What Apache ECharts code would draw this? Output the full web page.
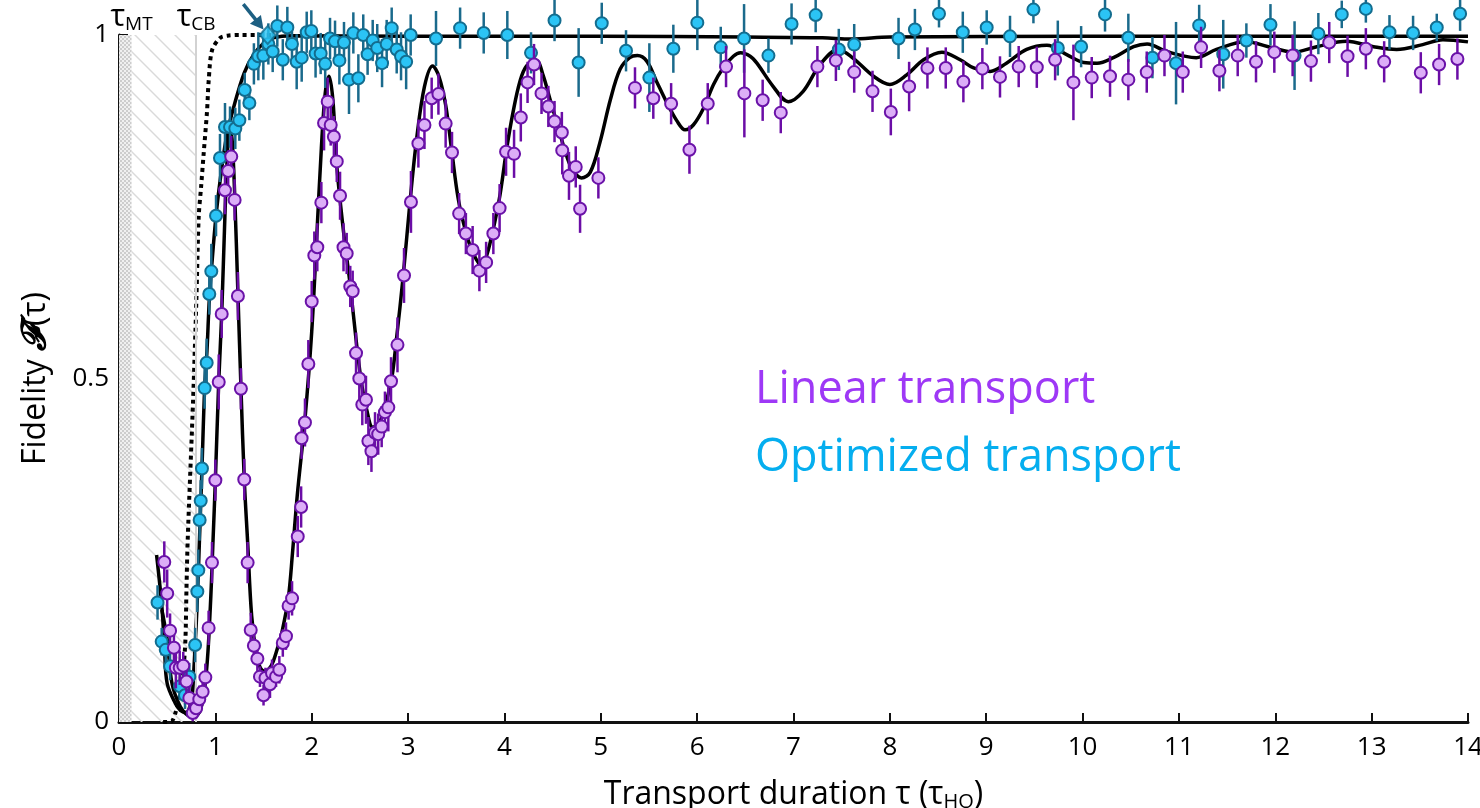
<!DOCTYPE html>
<html>
<head>
<meta charset="utf-8">
<script src="https://cdn.jsdelivr.net/npm/echarts@6/dist/echarts.min.js"></script>
<style>
  html, body { margin: 0; padding: 0; background: #fff; }
  #chart { width: 1480px; height: 808px; }
</style>
</head>
<body>
<div id="chart"></div>
<script>
// ---- Linear transport: measured fidelity and 1-sigma error ----
const linTau = [0.47,0.50,0.53,0.57,0.59,0.63,0.667,0.70,0.73,0.765,0.80,0.833,0.868,0.896,0.93,0.965,1.0,1.035,1.066,1.10,1.133,1.165,1.20,1.234,1.265,1.30,1.335,1.367,1.40,1.436,1.463,1.50,1.52,1.567,1.588,1.63,1.664,1.70,1.733,1.76,1.796,1.855,1.89,1.895,1.93,1.965,2.0,2.027,2.058,2.10,2.128,2.166,2.197,2.23,2.26,2.294,2.33,2.363,2.40,2.425,2.46,2.494,2.525,2.563,2.588,2.62,2.657,2.69,2.726,2.76,2.795,2.823,2.89,2.958,3.03,3.107,3.17,3.245,3.315,3.39,3.456,3.53,3.60,3.67,3.74,3.81,3.885,3.95,4.017,4.10,4.17,4.24,4.307,4.385,4.456,4.52,4.596,4.60,4.67,4.74,4.785,4.975,5.355,5.545,5.73,5.92,6.11,6.30,6.49,6.68,6.868,7.248,7.44,7.63,7.82,8.01,8.20,8.39,8.58,8.763,8.96,9.143,9.337,9.525,9.715,9.905,10.095,10.285,10.475,10.666,10.85,11.04,11.23,11.42,11.61,11.80,11.99,12.18,12.37,12.56,12.75,12.94,13.13,13.51,13.70,13.89];
const linFid = [0.233,0.187,0.133,0.108,0.079,0.079,0.082,0.059,0.035,0.013,0.020,0.033,0.044,0.065,0.137,0.232,0.352,0.495,0.594,0.774,0.802,0.823,0.760,0.620,0.485,0.353,0.232,0.134,0.111,0.092,0.066,0.039,0.064,0.055,0.071,0.066,0.076,0.115,0.125,0.169,0.180,0.270,0.313,0.413,0.436,0.521,0.612,0.679,0.691,0.756,0.872,0.903,0.869,0.852,0.816,0.766,0.691,0.682,0.634,0.627,0.537,0.500,0.462,0.469,0.409,0.394,0.421,0.419,0.430,0.451,0.458,0.496,0.549,0.650,0.757,0.842,0.869,0.908,0.914,0.871,0.829,0.740,0.711,0.687,0.657,0.669,0.711,0.748,0.830,0.827,0.880,0.931,0.957,0.915,0.896,0.874,0.858,0.832,0.795,0.808,0.747,0.792,0.923,0.908,0.900,0.833,0.900,0.954,0.915,0.905,0.887,0.954,0.963,0.946,0.918,0.888,0.925,0.952,0.952,0.932,0.951,0.939,0.954,0.953,0.964,0.931,0.938,0.940,0.935,0.946,0.970,0.946,0.982,0.948,0.970,0.961,0.975,0.970,0.962,0.989,0.969,0.980,0.961,0.945,0.957,0.965];
const linErr = [0.03,0.035,0.025,0.03,0.03,0.025,0.02,0.02,0.02,0.012,0.015,0.02,0.02,0.02,0.025,0.03,0.03,0.04,0.035,0.035,0.03,0.03,0.03,0.035,0.03,0.03,0.03,0.025,0.02,0.02,0.015,0.015,0.015,0.02,0.02,0.015,0.02,0.02,0.02,0.02,0.025,0.03,0.03,0.03,0.035,0.035,0.03,0.035,0.035,0.03,0.04,0.035,0.03,0.03,0.03,0.035,0.035,0.03,0.03,0.03,0.03,0.035,0.03,0.035,0.035,0.03,0.03,0.03,0.03,0.03,0.035,0.035,0.04,0.04,0.045,0.035,0.035,0.03,0.03,0.035,0.03,0.03,0.03,0.035,0.03,0.03,0.03,0.035,0.035,0.035,0.035,0.03,0.03,0.03,0.03,0.03,0.03,0.035,0.035,0.03,0.035,0.03,0.03,0.03,0.03,0.035,0.03,0.03,0.064,0.03,0.03,0.03,0.03,0.03,0.03,0.034,0.036,0.03,0.03,0.03,0.03,0.03,0.03,0.03,0.03,0.055,0.03,0.03,0.03,0.03,0.03,0.03,0.03,0.03,0.03,0.03,0.03,0.03,0.03,0.03,0.03,0.03,0.03,0.03,0.03,0.03];

// ---- Optimized transport: measured fidelity and 1-sigma error ----
const optTau = [0.40,0.443,0.485,0.53,0.633,0.685,0.73,0.79,0.813,0.823,0.837,0.848,0.861,0.889,0.91,0.937,0.958,1.007,1.048,1.10,1.152,1.207,1.249,1.305,1.353,1.40,1.446,1.498,1.55,1.595,1.643,1.70,1.747,1.795,1.844,1.896,1.948,1.996,2.04,2.093,2.14,2.19,2.242,2.287,2.335,2.387,2.432,2.484,2.535,2.58,2.633,2.68,2.73,2.778,2.83,2.882,2.927,2.98,3.027,3.29,3.54,3.785,4.03,4.276,4.52,4.77,5.01,5.262,5.504,5.753,6.002,6.245,6.487,6.74,6.98,7.23,7.47,7.63,8.09,8.26,8.51,8.757,9.005,9.247,9.49,9.743,9.985,10.233,10.475,10.725,10.97,11.21,11.46,11.70,11.95,12.20,12.447,12.69,12.94,13.185,13.43,13.676,13.918];
const optFid = [0.174,0.117,0.105,0.081,0.052,0.039,0.066,0.112,0.190,0.221,0.294,0.322,0.369,0.486,0.523,0.623,0.656,0.737,0.821,0.866,0.866,0.864,0.876,0.920,0.901,0.958,0.969,0.970,0.987,0.976,1.013,0.964,1.011,0.987,0.961,0.967,1.004,1.006,0.973,0.973,0.958,0.995,0.991,0.963,0.989,0.935,1.003,0.937,1.000,0.972,0.992,0.981,0.959,0.987,1.010,0.979,0.969,0.961,1.000,0.995,1.010,1.003,1.000,0.974,1.021,0.960,1.017,0.977,0.938,0.980,1.018,0.982,0.995,0.970,1.016,1.029,0.979,0.986,0.995,1.008,1.031,1.004,1.011,0.998,1.037,0.981,0.983,1.030,0.996,0.967,0.959,1.014,0.972,0.992,1.015,0.970,1.002,1.030,1.038,1.004,1.003,1.011,1.031];
const optErr = [0.025,0.02,0.02,0.02,0.02,0.02,0.02,0.025,0.03,0.03,0.03,0.03,0.03,0.03,0.035,0.03,0.04,0.03,0.035,0.035,0.03,0.03,0.03,0.025,0.025,0.03,0.035,0.035,0.03,0.03,0.03,0.03,0.03,0.03,0.04,0.035,0.03,0.03,0.035,0.03,0.035,0.03,0.03,0.035,0.03,0.05,0.03,0.035,0.03,0.03,0.03,0.035,0.035,0.035,0.03,0.035,0.035,0.04,0.03,0.04,0.03,0.03,0.035,0.03,0.03,0.05,0.03,0.03,0.05,0.035,0.04,0.03,0.05,0.025,0.03,0.025,0.03,0.03,0.03,0.03,0.02,0.03,0.025,0.03,0.02,0.04,0.03,0.025,0.035,0.03,0.06,0.03,0.05,0.025,0.03,0.05,0.03,0.02,0.02,0.025,0.025,0.02,0.025];

// ---- Fitted model curves ----
const fitLinTau = [0.445,0.50,0.55,0.637,0.71,0.775,0.845,0.906,0.948,0.976,1.0,1.035,1.066,1.10,1.13,1.152,1.175,1.20,1.235,1.266,1.30,1.335,1.377,1.43,1.47,1.515,1.56,1.60,1.65,1.69,1.757,1.80,1.85,1.93,2.0,2.05,2.10,2.14,2.18,2.22,2.26,2.33,2.40,2.467,2.52,2.57,2.633,2.70,2.76,2.83,2.88,2.95,3.02,3.09,3.17,3.255,3.32,3.39,3.45,3.52,3.60,3.67,3.765,3.816,3.885,3.954,4.024,4.09,4.16,4.23,4.335,4.40,4.47,4.54,4.61,4.68,4.75,4.80,4.89,4.99,5.10,5.20,5.30,5.38,5.477,5.58,5.68,5.79,5.875,5.96,6.065,6.17,6.27,6.376,6.45,6.55,6.62,6.79,6.946,7.10,7.276,7.466,7.62,7.83,8.0,8.175,8.35,8.54,8.73,8.87,9.04,9.21,9.42,9.63,9.84,10.01,10.15,10.32,10.53,10.67,10.87,11.18,11.39,11.69,11.98,12.19,12.43,12.74,13.02,13.26,13.53,13.74,14.0];
const fitLinFid = [0.163,0.12,0.056,0.022,0.010,0.008,0.017,0.071,0.168,0.265,0.352,0.495,0.594,0.74,0.84,0.866,0.845,0.77,0.62,0.485,0.353,0.262,0.154,0.095,0.078,0.074,0.078,0.088,0.11,0.13,0.18,0.245,0.33,0.441,0.568,0.70,0.835,0.915,0.94,0.905,0.81,0.714,0.635,0.548,0.49,0.455,0.429,0.435,0.46,0.50,0.558,0.65,0.757,0.85,0.925,0.955,0.94,0.898,0.835,0.762,0.713,0.684,0.664,0.679,0.718,0.767,0.835,0.888,0.932,0.955,0.962,0.942,0.908,0.874,0.84,0.811,0.796,0.792,0.80,0.843,0.906,0.95,0.967,0.97,0.962,0.932,0.903,0.875,0.862,0.869,0.893,0.928,0.952,0.969,0.974,0.969,0.959,0.925,0.903,0.918,0.957,0.979,0.966,0.94,0.928,0.942,0.964,0.975,0.964,0.952,0.947,0.959,0.979,0.985,0.971,0.96,0.959,0.967,0.983,0.987,0.976,0.967,0.979,0.99,0.981,0.975,0.983,0.991,0.983,0.979,0.986,0.993,0.99];
const fitOptTau = [0.39,0.445,0.473,0.50,0.585,0.637,0.69,0.723,0.758,0.775,0.79,0.81,0.835,0.861,0.889,0.913,0.937,0.958,1.007,1.06,1.12,1.20,1.30,1.40,1.50,1.60,1.80,3.0,5.0,6.5,7.3,7.6,8.0,10.0,14.0];
const fitOptFid = [0.243,0.168,0.105,0.056,0.027,0.017,0.014,0.017,0.037,0.071,0.112,0.168,0.265,0.369,0.486,0.54,0.615,0.656,0.737,0.80,0.855,0.90,0.945,0.972,0.988,0.996,0.999,0.998,0.998,0.997,0.996,0.994,0.997,0.998,0.998];
// Dotted reference curve
const boundTau = [0.458,0.544,0.585,0.637,0.665,0.689,0.70,0.713,0.769,0.803,0.827,0.852,0.879,0.914,0.931,0.966,1.052,1.124,1.26,1.6];
const boundFid = [0.0,0.001,0.013,0.042,0.071,0.119,0.192,0.265,0.469,0.614,0.735,0.779,0.828,0.89,0.934,0.978,0.996,0.999,1.0,1.0];

// ---- Annotations ----
const tauMT = 0.13;
const tauCB = 0.80;
const markerTau = [1.543];
const markerFid = [1.0];
const arrowPath = [[1.29, 1.045, 1.50, 1.008]];

const FONT = '"Open Sans", "DejaVu Sans", sans-serif';
const zip = (a, b) => a.map((v, i) => [v, b[i]]);

// Fill patterns for the forbidden-duration band
function hatchTile() {
  const c = document.createElement('canvas');
  c.width = 20; c.height = 20;
  const g = c.getContext('2d');
  g.strokeStyle = '#dadada';
  g.lineWidth = 1.4;
  for (let k = -1; k <= 1; k++) {
    g.beginPath();
    g.moveTo(k * 20 - 2, -2);
    g.lineTo(k * 20 + 22, 22);
    g.stroke();
  }
  return c;
}
function checkerTile() {
  const c = document.createElement('canvas');
  c.width = 4; c.height = 4;
  const g = c.getContext('2d');
  g.fillStyle = '#f0f0f0'; g.fillRect(0, 0, 4, 4);
  g.fillStyle = '#cdcdcd'; g.fillRect(0, 0, 2, 2); g.fillRect(2, 2, 2, 2);
  return c;
}
const bandFills = [
  { image: checkerTile(), repeat: 'repeat' },
  { image: hatchTile(), repeat: 'repeat' }
];

function errorBars(name, tau, fid, err, color, z) {
  return {
    type: 'custom', name, z, clip: false, silent: true, animation: false,
    data: tau.map((t, i) => [t, fid[i] - err[i], fid[i] + err[i]]),
    encode: { x: 0, y: [1, 2] },
    renderItem(params, api) {
      const lo = api.coord([api.value(0), api.value(1)]);
      const hi = api.coord([api.value(0), api.value(2)]);
      return {
        type: 'line',
        shape: { x1: lo[0], y1: lo[1], x2: hi[0], y2: hi[1] },
        style: { stroke: color, lineWidth: 2.5 }
      };
    }
  };
}

function markers(name, tau, fid, fill, border, z) {
  return {
    type: 'scatter', name, z, clip: false, silent: true, animation: false,
    data: zip(tau, fid),
    symbol: 'circle', symbolSize: 12,
    itemStyle: { color: fill, borderColor: border, borderWidth: 2, opacity: 1 }
  };
}

const subRich = {
  a: { fontSize: 32, fontFamily: FONT, color: '#000' },
  s: { fontSize: 20, fontFamily: FONT, color: '#000', padding: [14, 0, 0, 0] },
  f: { fontSize: 34, fontFamily: '"DejaVu Serif", serif', fontWeight: 'bold', fontStyle: 'italic', color: '#000' }
};

const chart = echarts.init(document.getElementById('chart'), null, { renderer: 'canvas' });
chart.setOption({
  animation: false,
  backgroundColor: '#fff',
  grid: { left: 119, right: 12, top: 35, bottom: 86, outerBoundsMode: 'none', containLabel: false },
  xAxis: {
    type: 'value', min: 0, max: 14, interval: 1,
    axisLine: { show: true, onZero: false, lineStyle: { color: '#111', width: 3 } },
    axisTick: { show: true, inside: true, length: 9, lineStyle: { color: '#111', width: 2 } },
    axisLabel: { color: '#000', fontSize: 26, fontFamily: FONT, margin: 13 },
    splitLine: { show: false },
    name: '{a|Transport duration τ (τ}{s|HO}{a|)}',
    nameLocation: 'middle', nameGap: 56,
    nameTextStyle: { rich: subRich }
  },
  yAxis: {
    type: 'value', min: 0, max: 1, interval: 0.1,
    axisLine: { show: true, onZero: false, lineStyle: { color: '#111', width: 3 } },
    axisTick: { show: true, inside: true, length: 9, lineStyle: { color: '#111', width: 2 } },
    axisLabel: {
      color: '#000', fontSize: 26, fontFamily: FONT, margin: 10,
      formatter: v => Math.abs(v) < 1e-6 ? '0' : Math.abs(v - 0.5) < 1e-6 ? '0.5' : Math.abs(v - 1) < 1e-6 ? '1' : ''
    },
    splitLine: { show: false },
    name: '{a|Fidelity }{f|𝓕}{a|(τ)}',
    nameLocation: 'middle', nameGap: 66, nameRotate: 90,
    nameTextStyle: { rich: subRich }
  },
  graphic: [
    { type: 'text', x: 755, y: 390, z: 100,
      style: { text: 'Linear transport', fill: '#9E38F6', font: '45px ' + FONT, verticalAlign: 'middle' } },
    { type: 'text', x: 755, y: 458, z: 100,
      style: { text: 'Optimized transport', fill: '#05AEEF', font: '45px ' + FONT, verticalAlign: 'middle' } }
  ],
  series: [
    {
      type: 'custom', name: 'band', z: 1, silent: true, clip: false,
      data: [[0, tauMT], [tauMT, tauCB]],
      encode: { x: [0, 1] },
      renderItem(params, api) {
        const p0 = api.coord([api.value(0), 1]);
        const p1 = api.coord([api.value(1), 0]);
        return {
          type: 'rect',
          shape: { x: p0[0], y: p0[1], width: p1[0] - p0[0], height: p1[1] - p0[1] },
          style: { fill: bandFills[params.dataIndex] }
        };
      }
    },
    {
      type: 'line', name: 'bound', z: 3, silent: true, clip: false,
      data: zip(boundTau, boundFid), showSymbol: false, smooth: 0.3,
      lineStyle: { color: '#000', width: 4, type: [4, 4], cap: 'butt' },
      markLine: {
        silent: true, symbol: ['none', 'none'], animation: false,
        label: {
          show: true, position: 'end', distance: 1,
          rich: { t: { fontSize: 31, fontFamily: FONT, color: '#000' },
                  s: { fontSize: 19, fontFamily: FONT, color: '#000', padding: [14, 0, 0, 0] } }
        },
        data: [
          { xAxis: tauMT, lineStyle: { color: 'rgba(0,0,0,0)', width: 1, type: 'solid' }, label: { formatter: '{t|τ}{s|MT}' } },
          { xAxis: tauCB, lineStyle: { color: '#d2d2d2', width: 2, type: 'solid' }, label: { formatter: '{t|τ}{s|CB}' } }
        ]
      }
    },
    {
      type: 'line', name: 'fit-linear', z: 4, silent: true,
      data: zip(fitLinTau, fitLinFid), showSymbol: false, smooth: 0.35,
      lineStyle: { color: '#000', width: 3.5 }
    },
    {
      type: 'line', name: 'fit-optimized', z: 4, silent: true,
      data: zip(fitOptTau, fitOptFid), showSymbol: false, smooth: 0.35,
      lineStyle: { color: '#000', width: 3.5 }
    },
    errorBars('opt-err', optTau, optFid, optErr, '#1A6A8C', 5),
    markers('Optimized transport', optTau, optFid, '#2BC4F5', '#136D8F', 6),
    errorBars('lin-err', linTau, linFid, linErr, '#6B0DA6', 7),
    markers('Linear transport', linTau, linFid, '#DCAEF7', '#6A12A8', 8),
    {
      type: 'scatter', name: 'optimum', z: 20, clip: false, silent: true,
      data: zip(markerTau, markerFid), symbol: 'diamond', symbolSize: [16, 18],
      itemStyle: { color: '#2BC4F5', borderColor: '#136D8F', borderWidth: 2 }
    },
    {
      // arrow pointing at the optimum
      type: 'custom', name: 'arrow', z: 21, clip: false, silent: true,
      data: arrowPath,
      encode: { x: [0, 2], y: [1, 3] },
      renderItem(params, api) {
        const a = api.coord([api.value(0), api.value(1)]);
        const b = api.coord([api.value(2), api.value(3)]);
        const dx = b[0] - a[0], dy = b[1] - a[1];
        const len = Math.hypot(dx, dy), ux = dx / len, uy = dy / len;
        const head = 13, half = 7;
        const bx = b[0] - ux * head, by = b[1] - uy * head;
        return {
          type: 'group',
          children: [
            { type: 'line', shape: { x1: a[0], y1: a[1], x2: bx + ux * 2, y2: by + uy * 2 },
              style: { stroke: '#1D5F82', lineWidth: 3.5 } },
            { type: 'polygon',
              shape: { points: [[b[0], b[1]], [bx - uy * half, by + ux * half], [bx + uy * half, by - ux * half]] },
              style: { fill: '#1D5F82' } }
          ]
        };
      }
    }
  ]
});
</script>
</body>
</html>
